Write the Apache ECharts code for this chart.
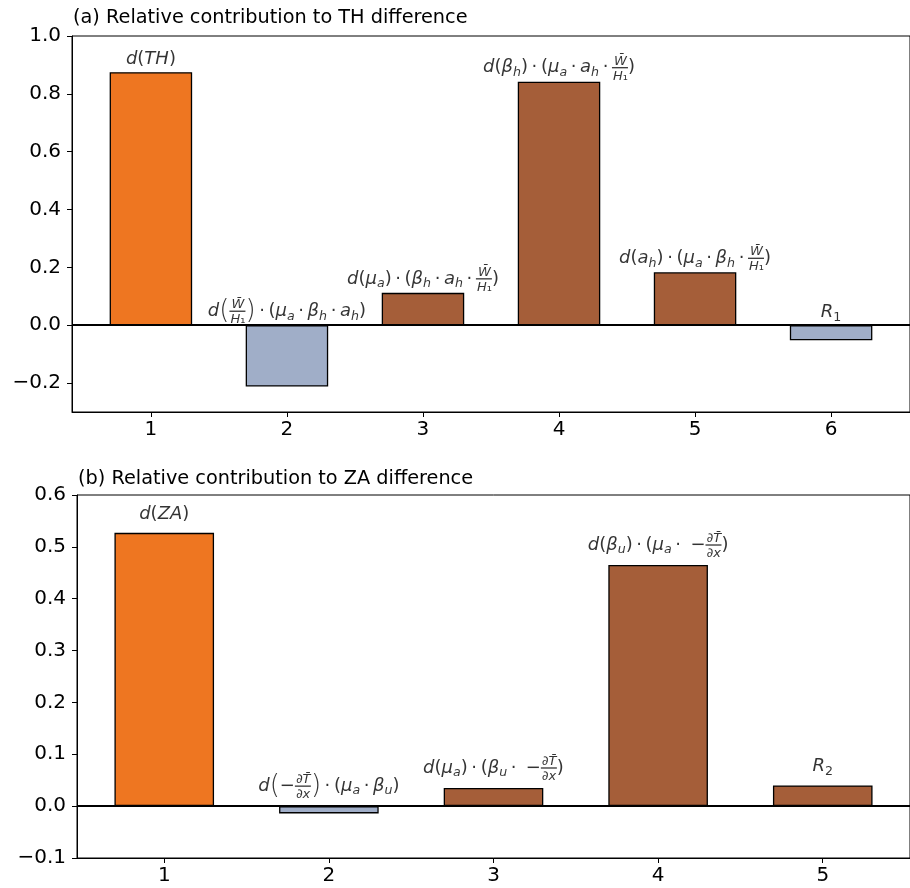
<!DOCTYPE html>
<html>
<head>
<meta charset="utf-8">
<script src="https://cdn.jsdelivr.net/npm/echarts@6/dist/echarts.min.js"></script>
<style>html,body{margin:0;padding:0;background:#fff}#c{width:910px;height:888px}</style>
</head>
<body>
<div id="c"></div>
<script>
// ---- data ----
const titleA = '(a) Relative contribution to TH difference';
const titleB = '(b) Relative contribution to ZA difference';
const xA = [1, 2, 3, 4, 5, 6];
const valuesA = [0.875, -0.212, 0.112, 0.842, 0.183, -0.052];
const colorKeysA = ['orange', 'blue', 'brown', 'brown', 'brown', 'blue'];
const xB = [1, 2, 3, 4, 5];
const valuesB = [0.527, -0.014, 0.035, 0.465, 0.040];
const colorKeysB = ['orange', 'blue', 'brown', 'brown', 'brown'];
const yTicksA = [-0.2, 0.0, 0.2, 0.4, 0.6, 0.8, 1.0];
const yTicksB = [-0.1, 0.0, 0.1, 0.2, 0.3, 0.4, 0.5, 0.6];

// label text: [style, text] segments; I italic, N upright, S italic subscript, SN upright subscript, P big paren
const DOT = '\u2009·\u2009';
const fracWH = { num: [['I', 'W̄']], den: [['I', 'H'], ['N', '₁']], w: 16, numPad: 2, denPad: 1 };
const fracDT = { num: [['N', '∂'], ['I', 'T̄']], den: [['N', '∂'], ['I', 'x']], w: 16, numPad: 1, denPad: 1 };
const labelsA = [
  [['I', 'd'], ['N', '('], ['I', 'TH'], ['N', ')']],
  [['I', 'd'], ['P', '('], fracWH, ['P', ')'], ['N', DOT + '('], ['I', 'μ'], ['S', 'a'], ['N', DOT], ['I', 'β'], ['S', 'h'], ['N', DOT], ['I', 'a'], ['S', 'h'], ['N', ')']],
  [['I', 'd'], ['N', '('], ['I', 'μ'], ['S', 'a'], ['N', ')' + DOT + '('], ['I', 'β'], ['S', 'h'], ['N', DOT], ['I', 'a'], ['S', 'h'], ['N', DOT], fracWH, ['N', ')']],
  [['I', 'd'], ['N', '('], ['I', 'β'], ['S', 'h'], ['N', ')' + DOT + '('], ['I', 'μ'], ['S', 'a'], ['N', DOT], ['I', 'a'], ['S', 'h'], ['N', DOT], fracWH, ['N', ')']],
  [['I', 'd'], ['N', '('], ['I', 'a'], ['S', 'h'], ['N', ')' + DOT + '('], ['I', 'μ'], ['S', 'a'], ['N', DOT], ['I', 'β'], ['S', 'h'], ['N', DOT], fracWH, ['N', ')']],
  [['I', 'R'], ['SN', '1']]
];
const labelsB = [
  [['I', 'd'], ['N', '('], ['I', 'ZA'], ['N', ')']],
  [['I', 'd'], ['P', '('], ['N', '−'], fracDT, ['P', ')'], ['N', DOT + '('], ['I', 'μ'], ['S', 'a'], ['N', DOT], ['I', 'β'], ['S', 'u'], ['N', ')']],
  [['I', 'd'], ['N', '('], ['I', 'μ'], ['S', 'a'], ['N', ')' + DOT + '('], ['I', 'β'], ['S', 'u'], ['N', DOT + ' −'], fracDT, ['N', ')']],
  [['I', 'd'], ['N', '('], ['I', 'β'], ['S', 'u'], ['N', ')' + DOT + '('], ['I', 'μ'], ['S', 'a'], ['N', DOT + ' −'], fracDT, ['N', ')']],
  [['I', 'R'], ['SN', '2']]
];

const palette = { orange: '#EE7621', brown: '#A55E39', blue: '#A0AEC8' };
const FONT = '"DejaVu Sans", sans-serif';
const MAIN = 18, SUB = 12.6, FR = 13, BIGP = 26;

// ---- rich styles ----
const rich = {};
function mk(fontSize, italic, lineHeight, color, extra) {
  return Object.assign({
    fontFamily: FONT, fontSize: fontSize, fontStyle: italic ? 'italic' : 'normal',
    color: color, lineHeight: lineHeight, verticalAlign: 'middle', align: 'left'
  }, extra || {});
}
const baseDefs = {
  I: [MAIN, true, null], N: [MAIN, false, null],
  S: [SUB, true, { padding: [10, 0, 0, 0] }], SN: [SUB, false, { padding: [10, 0, 0, 0] }],
  P: [BIGP, false, { fontWeight: 200 }]
};
const TRANSP = 'rgba(0,0,0,0)';
Object.keys(baseDefs).forEach(k => {
  const [fs, it, ex] = baseDefs[k];
  rich[k] = mk(fs, it, 30, '#000', ex);          // single-line labels
  rich['m' + k] = mk(fs, it, 2, '#000', ex);     // middle line of fraction labels
  rich['t' + k] = mk(fs, it, 1, TRANSP, ex);     // invisible spacer copies
});
rich.uI = mk(FR, true, 11, '#000'); rich.uN = mk(FR, false, 11, '#000');
rich.lI = mk(FR, true, 15, '#000'); rich.lN = mk(FR, false, 15, '#000');
for (let g = 1; g <= 4; g++) rich['g' + g] = mk(1, false, 1, TRANSP, { width: g });
for (let w = 10; w <= 20; w++) rich['bar' + w] = mk(1, false, 2, TRANSP, { width: w, height: 1.3, backgroundColor: '#000' });

function tok(prefix, segs) { return segs.map(([s, t]) => '{' + prefix + s + '|' + t + '}').join(''); }
function buildLabel(spec) {
  const fi = spec.findIndex(s => !Array.isArray(s));
  if (fi < 0) return tok('', spec);
  const pre = spec.slice(0, fi), fr = spec[fi], post = spec.slice(fi + 1);
  const l1 = tok('t', pre) + (fr.numPad ? '{g' + fr.numPad + '| }' : '') + tok('u', fr.num);
  const l2 = tok('m', pre) + '{bar' + fr.w + '| }' + tok('m', post);
  const l3 = tok('t', pre) + (fr.denPad ? '{g' + fr.denPad + '| }' : '') + tok('l', fr.den);
  return l1 + '\n' + l2 + '\n' + l3;
}

function fmt(v) {
  const s = Math.abs(v).toFixed(1);
  return (v < -1e-9 ? '−' : '') + s;
}

function axes(gi, xmin, xmax, ymin, ymax, xt, yt) {
  return {
    x: {
      type: 'value', gridIndex: gi, min: xmin, max: xmax,
      splitLine: { show: false },
      axisLine: { show: true, onZero: false, lineStyle: { color: '#000', width: 1 } },
      axisTick: { show: true, length: 5, lineStyle: { color: '#000' }, customValues: xt },
      axisLabel: { fontFamily: FONT, fontSize: 20, color: '#000', margin: 8, customValues: xt, formatter: v => String(Math.round(v)) }
    },
    y: {
      type: 'value', gridIndex: gi, min: ymin, max: ymax,
      splitLine: { show: false },
      axisLine: { show: true, lineStyle: { color: '#000', width: 1 } },
      axisTick: { show: true, length: 5, lineStyle: { color: '#000' }, customValues: yt },
      axisLabel: { fontFamily: FONT, fontSize: 20, color: '#000', margin: 11, customValues: yt, formatter: v => fmt(v) }
    }
  };
}

const aA = axes(0, 0.42, 6.58, -0.3, 1.0, xA, yTicksA);
const aB = axes(1, 0.47, 5.53, -0.1, 0.6, xB, yTicksB);

function barSeries(gi, xs, vals, keys, width) {
  return {
    type: 'bar', xAxisIndex: gi, yAxisIndex: gi, barWidth: width,
    data: xs.map((x, k) => ({
      value: [x, vals[k]],
      itemStyle: { color: palette[keys[k]], borderColor: '#000', borderWidth: 1.3 }
    })),
    markLine: {
      silent: true, symbol: 'none', label: { show: false },
      lineStyle: { color: '#000', width: 1.8, type: 'solid' },
      data: [{ yAxis: 0 }]
    },
    z: 2
  };
}

function labelSeries(gi, xs, vals, labels, dist) {
  const texts = labels.map(buildLabel);
  return {
    type: 'scatter', xAxisIndex: gi, yAxisIndex: gi, symbolSize: 0,
    data: xs.map((x, k) => ({ value: [x, Math.max(vals[k], 0)] })),
    label: {
      show: true, position: 'top', distance: dist,
      formatter: p => texts[p.dataIndex], rich: rich
    },
    z: 5, silent: true
  };
}

const chart = echarts.init(document.getElementById('c'), null, { renderer: 'canvas' });
chart.setOption({
  animation: false,
  backgroundColor: '#fff',
  title: [
    { text: titleA, left: 68, top: 3, textStyle: { fontFamily: FONT, fontSize: 19.3, fontWeight: 'normal', color: '#000' } },
    { text: titleB, left: 73, top: 464, textStyle: { fontFamily: FONT, fontSize: 19.3, fontWeight: 'normal', color: '#000' } }
  ],
  grid: [
    { left: 72, top: 36, right: -9, bottom: 476, show: true, borderColor: '#000', borderWidth: 1, backgroundColor: 'transparent' },
    { left: 77, top: 495, right: -6, bottom: 30, show: true, borderColor: '#000', borderWidth: 1, backgroundColor: 'transparent' }
  ],
  xAxis: [aA.x, aB.x],
  yAxis: [aA.y, aB.y],
  series: [
    barSeries(0, xA, valuesA, colorKeysA, 82.5),
    labelSeries(0, xA, valuesA, labelsA, -2),
    barSeries(1, xB, valuesB, colorKeysB, 99.6),
    labelSeries(1, xB, valuesB, labelsB, 4)
  ]
});
</script>
</body>
</html>
